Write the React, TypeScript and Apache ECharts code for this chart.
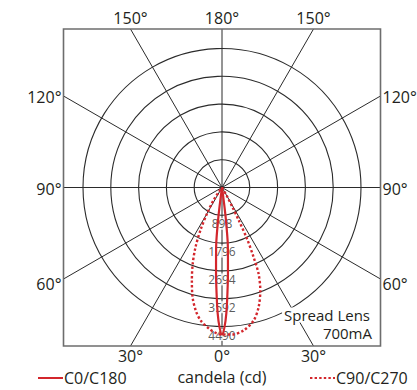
import React, { useEffect, useRef } from "react";
import * as echarts from "echarts";

// ---- data ----
const ringValues = [898, 1796, 2694, 3592, 4490];
const angleTicks = [0, 30, 60, 90, 120, 150, 180];
const spokeAngles = [0, 30, 60, 90, 120, 150, 180, -30, -60, -90, -120, -150];

// C0/C180 (symmetric half, angle from nadir in degrees, candela)
const c0Angles = [0, 1, 2, 3, 4, 5, 6, 7, 7.5, 8];
const c0Values = [4750, 4520, 4050, 3380, 2760, 2200, 1750, 950, 400, 0];

// C90 half (drawn on the left)
const c90Angles = [0, 2, 5, 9, 12, 15, 18, 21, 24, 27, 30, 34, 40];
const c90Values = [4750, 4720, 4590, 4360, 4070, 3670, 3150, 2640, 2100, 1500, 950, 450, 0];

// C270 half (drawn on the right)
const c270Angles = [0, 4, 8.6, 13.4, 17, 20.4, 23, 24.4, 26, 27, 28, 30, 35];
const c270Values = [4750, 4760, 4670, 4415, 4044, 3550, 3020, 2470, 1850, 1200, 700, 300, 0];

const seriesNames = ["C0/C180", "C90/C270"];
const unitLabel = "candela (cd)";
const noteLines = ["Spread Lens", "700mA"];

// ---- layout ----
const CX = 222;
const CY = 187.5;
const RING_PX = 139; // pixel radius of the outermost labelled ring
const HALF = 158.5;
const RED = "#d3262c";
const FONT = "'Open Sans', sans-serif";
const GRID = "#2b2b2b";

function lobe(rightA: number[], rightV: number[], leftA: number[], leftV: number[]) {
  const pts: number[][] = [];
  for (let i = rightA.length - 1; i >= 0; i--) pts.push([rightV[i], -rightA[i]]);
  for (let i = 1; i < leftA.length; i++) pts.push([leftV[i], leftA[i]]);
  return pts;
}

export default function App() {
  const ref = useRef<HTMLDivElement>(null);
  useEffect(() => {
    if (!ref.current) return;
    const chart = echarts.init(ref.current, null, { renderer: "svg" });
    const step = ringValues[0];
    const ringMax = ringValues[ringValues.length - 1];
    const axisMax = ringMax + step; // headroom so peaks above the last ring are not clamped
    const polarRadius = (RING_PX * axisMax) / ringMax;

    const left = CX - HALF;
    const right = CX + HALF;
    const top = CY - HALF;
    const bottom = CY + HALF;

    // spokes: from centre to the frame
    const spokes = spokeAngles.map((a) => {
      const rad = (a * Math.PI) / 180;
      const c = Math.cos(rad);
      const s = Math.sin(rad);
      const dist = HALF / Math.max(Math.abs(c), Math.abs(s));
      // angle 0 = down, positive = towards the left
      return {
        type: "line",
        z: 1,
        silent: true,
        shape: { x1: CX, y1: CY, x2: CX - dist * s, y2: CY + dist * c },
        style: { stroke: GRID, lineWidth: 1 },
      };
    });

    const labelStyle = (text: string, align: string) => ({
      text,
      font: `16px ${FONT}`,
      fill: "#231f20",
      align,
      verticalAlign: "middle",
    });

    const labelGraphics: any[] = [];
    angleTicks.forEach((d) => {
      const rad = (d * Math.PI) / 180;
      const text = `${d}°`;
      const c = Math.cos(rad);
      const s = Math.sin(rad);
      if (Math.abs(c) >= Math.abs(s) - 1e-9) {
        const dist = HALF / Math.abs(c);
        const dx = dist * s;
        const sides = Math.abs(dx) < 0.5 ? [0] : [-1, 1];
        sides.forEach((side) => {
          labelGraphics.push({
            type: "text",
            x: CX + side * dx,
            y: c > 0 ? bottom + 10 : top - 11,
            style: labelStyle(text, "center"),
          });
        });
      } else {
        const dist = HALF / Math.abs(s);
        const yy = CY + dist * c + (d === 60 ? 5 : 1);
        labelGraphics.push({ type: "text", x: left - 2, y: yy, style: labelStyle(text, "right") });
        labelGraphics.push({ type: "text", x: right + 2, y: yy, style: labelStyle(text, "left") });
      }
    });

    const ringColors = [GRID, GRID, GRID, GRID, GRID, GRID, "rgba(0,0,0,0)"];

    const legendCommon = {
      itemWidth: 25,
      itemHeight: 12,
      itemGap: 0,
      padding: 0,
      itemStyle: { opacity: 0 },
      textStyle: { fontSize: 16, fontFamily: FONT, color: "#231f20", padding: [0, 0, 0, -4] },
    };

    chart.setOption({
      animation: false,
      backgroundColor: "#ffffff",
      polar: { center: [CX, CY], radius: polarRadius },
      angleAxis: {
        type: "value",
        min: -180,
        max: 180,
        startAngle: 90,
        clockwise: true,
        axisLine: { show: false },
        axisTick: { show: false },
        axisLabel: { show: false },
        splitLine: { show: false },
      },
      radiusAxis: {
        type: "value",
        min: 0,
        max: axisMax,
        interval: step,
        axisLine: { show: false },
        axisTick: { show: false },
        axisLabel: { show: false },
        splitLine: { show: true, lineStyle: { color: ringColors, width: 1.1 } },
      },
      legend: [
        { ...legendCommon, data: [seriesNames[0]], left: 37, top: 370 },
        { ...legendCommon, data: [seriesNames[1]], left: 309, top: 370 },
      ],
      graphic: [
        ...spokes,
        {
          type: "rect",
          z: 10,
          silent: true,
          shape: { x: left, y: top, width: right - left, height: bottom - top },
          style: { fill: "none", stroke: "#6d6d6d", lineWidth: 1.6 },
        },
        ...labelGraphics,
        {
          type: "text",
          x: CX,
          y: 377,
          style: labelStyle(unitLabel, "center"),
        },
        {
          type: "text",
          x: 372,
          y: 315,
          z: 5,
          style: {
            text: noteLines[0],
            font: `15px ${FONT}`,
            fill: "#231f20",
            align: "right",
            verticalAlign: "middle",
            backgroundColor: "#ffffff",
            padding: [0, 2, 0, 2],
          },
        },
        {
          type: "text",
          x: 372,
          y: 333,
          z: 5,
          style: {
            text: noteLines[1],
            font: `15px ${FONT}`,
            fill: "#231f20",
            align: "right",
            verticalAlign: "middle",
          },
        },
      ],
      series: [
        {
          type: "scatter",
          coordinateSystem: "polar",
          data: ringValues.map((v) => [v, 0]),
          symbolSize: 1,
          itemStyle: { color: "rgba(0,0,0,0)" },
          z: 2,
          silent: true,
          label: {
            show: true,
            position: "bottom",
            distance: 2,
            formatter: (p: any) => String(p.value[0]),
            fontSize: 12,
            fontFamily: FONT,
            color: "#2e2e2e",
            backgroundColor: "#ffffff",
            padding: [0, 1, 0, 1],
            lineHeight: 12,
          },
        },
        {
          name: seriesNames[0],
          type: "line",
          coordinateSystem: "polar",
          data: lobe(c0Angles, c0Values, c0Angles, c0Values),
          symbol: "none",
          smooth: 0.3,
          clip: false,
          z: 3,
          lineStyle: { color: RED, width: 2.2 },
          itemStyle: { color: RED },
        },
        {
          name: seriesNames[1],
          type: "line",
          coordinateSystem: "polar",
          data: lobe(c270Angles, c270Values, c90Angles, c90Values),
          symbol: "none",
          smooth: 0.3,
          clip: false,
          z: 3,
          lineStyle: { color: RED, width: 2.4, type: [2.4, 2.2] },
          itemStyle: { color: RED },
        },
      ],
    });
    return () => chart.dispose();
  }, []);
  return <div ref={ref} style={{ position: "absolute", left: 0, top: 0, width: 417, height: 390 }} />;
}
